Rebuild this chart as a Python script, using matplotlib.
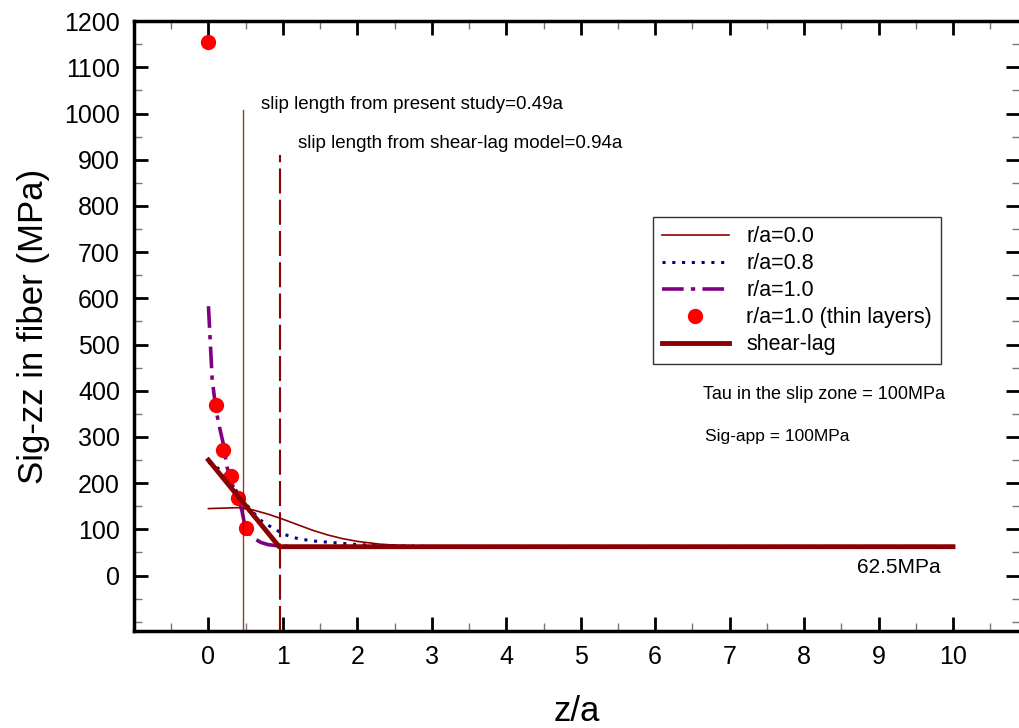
import matplotlib
matplotlib.use("Agg")
import matplotlib.pyplot as plt
from matplotlib.ticker import MultipleLocator

plt.rcParams['font.family'] = ['Liberation Sans', 'DejaVu Sans']

# data
r00_z = [0, 0.2, 0.4, 0.6, 0.8, 1.0, 1.2, 1.4, 1.6, 1.8, 2.0, 2.3, 2.6, 3.0, 10]
r00_s = [145, 146, 147, 142, 133, 122, 110, 98, 88, 80, 74, 68, 65, 63, 62.5]

r08_z = [0, 0.1, 0.2, 0.3, 0.4, 0.5, 0.6, 0.7, 0.8, 0.9, 1.0, 1.2, 1.4, 1.7, 2.0, 2.4, 3.0, 10]
r08_s = [245, 237, 220, 200, 178, 155, 137, 120, 109, 100, 90, 80, 75, 71, 67, 65, 63, 62.5]

r10_z = [0, 0.05, 0.1, 0.15, 0.2, 0.25, 0.3, 0.35, 0.4, 0.45, 0.5, 0.6, 0.7, 0.8, 0.9, 1.0, 1.2, 10]
r10_s = [583, 425, 360, 320, 285, 235, 205, 185, 170, 140, 100, 82, 72, 67, 65, 63.5, 62.5, 62.5]

thin_z = [0, 0.1, 0.2, 0.3, 0.4, 0.5]
thin_s = [1155, 370, 272, 215, 167, 103]

shear_z = [0, 0.95, 10]
shear_s = [250, 62.5, 62.5]

# where the two slip-length markers sit in the picture
slip_present = 0.47
slip_shear = 0.96

fig = plt.figure(figsize=(10.19, 7.28), dpi=100)
ax = fig.add_axes([0.1315, 0.1332, 0.8695, 0.8378])

dred = '#8B0000'
ax.plot(r00_z, r00_s, color=dred, lw=1.2, label='r/a=0.0')
ax.plot(r08_z, r08_s, color='#00008B', lw=2.2, ls=(0, (1, 2.2)), label='r/a=0.8')
ax.plot(r10_z, r10_s, color='#800080', lw=2.6, ls=(0, (6, 2, 1.2, 2)), label='r/a=1.0')
ax.plot(thin_z, thin_s, 'o', color='#FF0000', ms=10, label='r/a=1.0 (thin layers)')
ax.plot(shear_z, shear_s, color=dred, lw=3.5, label='shear-lag')

# slip length markers
ax.plot([slip_present, slip_present], [-120, 1008], color=dred, lw=1.0, alpha=0.8)
ax.plot([slip_shear, slip_shear], [-120, 910], color=dred, lw=1.5, ls=(0, (12, 3)))

ax.text(0.71, 1020, 'slip length from present study=0.49a', fontsize=13.5, va='center')
ax.text(1.2, 936, 'slip length from shear-lag model=0.94a', fontsize=13.5, va='center')
ax.text(6.64, 391, 'Tau in the slip zone = 100MPa', fontsize=13, va='center')
ax.text(6.67, 300, 'Sig-app = 100MPa', fontsize=12.5, va='center')
ax.text(8.71, 17, '62.5MPa', fontsize=15, va='center')

ax.set_xlim(-1, 10.9)
ax.set_ylim(-120, 1200)
ax.xaxis.set_minor_locator(MultipleLocator(0.5))
ax.yaxis.set_minor_locator(MultipleLocator(50))
ax.set_xticks(range(0, 11))
ax.set_yticks(range(0, 1201, 100))

ax.tick_params(which='both', direction='in', top=True, right=True, labelsize=18)
ax.tick_params(which='major', length=10, width=2, pad=10)
ax.tick_params(which='minor', length=6, width=1, color='#777777')
for sp in ax.spines.values():
    sp.set_linewidth(2.5)

ax.set_xlabel('z/a', fontsize=25, labelpad=19)
ax.set_ylabel('Sig-zz in fiber (MPa)', fontsize=25, labelpad=10)

leg = ax.legend(loc='upper left', bbox_to_anchor=(0.5858, 0.6787), borderaxespad=0,
                fontsize=15.5, frameon=True, fancybox=False, edgecolor='black',
                handlelength=3.1, handletextpad=0.8, labelspacing=0.28, borderpad=0.42)
leg.get_frame().set_linewidth(1.0)

fig.savefig('out.png', dpi=100)
